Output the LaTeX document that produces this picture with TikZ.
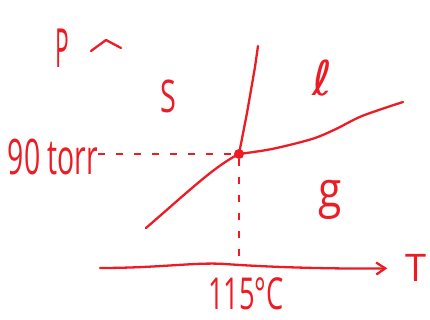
\documentclass[tikz,border=0pt]{standalone}
\usepackage{fontspec}
\setmainfont{Open Sans}
\newfontfamily\loopfont{DejaVu Sans}
\usetikzlibrary{arrows.meta}
\definecolor{penred}{RGB}{237,28,36}
\begin{document}
\begin{tikzpicture}[
  x=1pt, y=-1pt,
  pen/.style={draw=penred, line width=2.3pt, line cap=round, line join=round},
  guide/.style={draw=penred, line width=2.3pt, dash pattern=on 7pt off 11pt},
  hand/.style={text=penred, inner sep=0pt, font=\fontsize{#1}{#1}\selectfont},
  narrow/.style={xscale=#1, transform shape},
  dot/.style={circle, fill=penred, inner sep=0pt, minimum size=10pt}
]
\useasboundingbox (0,0) rectangle (430,320);
% labels
\node[hand=54, narrow=0.42] (plabel) at (62,48) {P};
\node[hand=45, narrow=0.64] (solid) at (168,96) {S};
\node[hand=48] (liquid) at (322,78) {\loopfont ℓ};
\node[hand=50, narrow=0.85] (gas) at (330,200) {g};
\node[hand=49, narrow=0.58] (torr) at (53,157) {90 torr};
\node[hand=44, narrow=0.62] (temp) at (246,294) {115°C};
\node[hand=38] (tlabel) at (416,268) {T};
% triple point and curve ends
\node[dot] (tp) at (239,154) {};
\coordinate (sltop) at (258,46);
\coordinate (sgend) at (146,228);
\coordinate (lgend) at (403,102);
\coordinate (torig) at (100,268);
\coordinate (tfoot) at (239,262);
% axes
\draw[pen] (91,51) -- (106,40) -- (121,48);
\draw[pen, -{Straight Barb[length=9pt, width=12pt]}, shorten >=18pt]
  (torig) .. controls (160,268) and (195,262) .. (225,264)
  .. controls (280,268) and (350,269) .. (tlabel.west);
% phase boundaries
\draw[pen] (tp.center) -- (247,113) -- (255,67) -- (sltop);
\draw[pen] (tp.center) .. controls (215,166) and (190,190) .. (sgend);
\draw[pen] plot[smooth, tension=0.5] coordinates {(tp.center) (272,149) (312,139) (336,129) (362,116) (lgend)};
% guides
\draw[guide] (torr.east |- tp) -- (tp);
\draw[guide] (tp) -- (tfoot);
\end{tikzpicture}
\end{document}
